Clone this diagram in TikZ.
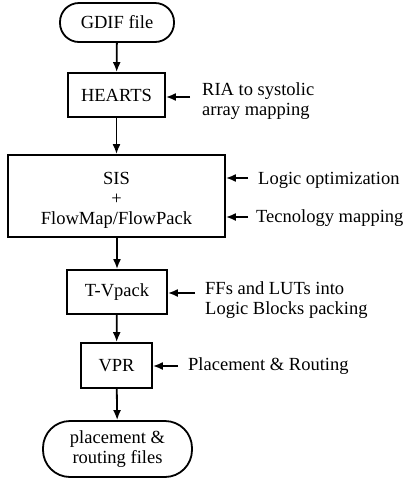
\documentclass[tikz,border=0pt]{standalone}
\usepackage{fontspec}
\setmainfont{Liberation Serif}
\usetikzlibrary{arrows.meta}
\begin{document}
\begin{tikzpicture}[x=1pt,y=-1pt,
  every node/.style={font=\fontsize{18.5}{20}\selectfont, inner sep=0pt},
  box/.style={draw, line width=1.8pt, minimum width=#1},
  note/.style={anchor=west, align=left},
  flow/.style={line width=1.8pt, -{Latex[length=10pt,width=8pt]}}]
\useasboundingbox (0,0) rectangle (409,483);
\node[draw, line width=1.8pt, rounded corners=19pt, minimum width=114pt, minimum height=39pt] (gdif) at (117,22.5) {GDIF file};
\node[box=97pt, minimum height=44pt] (hearts) at (116.5,95) {HEARTS};
\node[box=217pt, minimum height=82pt] (sis) at (116.5,196) {};
\node[align=center] (sistext) at (116.5,200) {SIS\\[0pt]+\\[0pt]FlowMap/FlowPack};
\node[box=100pt, minimum height=44pt] (tv) at (117,292) {T-Vpack};
\node[box=71pt, minimum height=45pt] (vpr) at (116.5,365.5) {VPR};
\node[draw, line width=1.8pt, rounded corners=27pt, minimum width=149pt, minimum height=56pt, align=center] (out) at (117.5,449) {placement \&\\routing files};

\draw[flow] (gdif) -- (hearts);
\draw[flow] (hearts) -- (sis);
\draw[flow] (sis.south -| tv.north) -- (tv);
\draw[flow] (tv) -- (vpr);
\draw[flow] (vpr) -- (out);

\node[note] (n1) at (202,101) {RIA to systolic\\array mapping};
\node[note] (n2) at (258,180) {Logic optimization};
\node[note] (n3) at (256,218) {Tecnology mapping};
\node[note] (n4) at (205,300) {FFs and LUTs into\\Logic Blocks packing};
\node[note] (n5) at (188,366) {Placement \& Routing};

\coordinate (a1) at (190,97);
\coordinate (a2) at (248,178);
\coordinate (a3) at (248,217);
\coordinate (a4) at (195,293);
\coordinate (a5) at (178,366);
\draw[flow] (a1) -- (a1 -| hearts.east);
\draw[flow] (a2) -- (a2 -| sis.east);
\draw[flow] (a3) -- (a3 -| sis.east);
\draw[flow] (a4) -- (a4 -| tv.east);
\draw[flow] (a5) -- (a5 -| vpr.east);
\end{tikzpicture}
\end{document}
